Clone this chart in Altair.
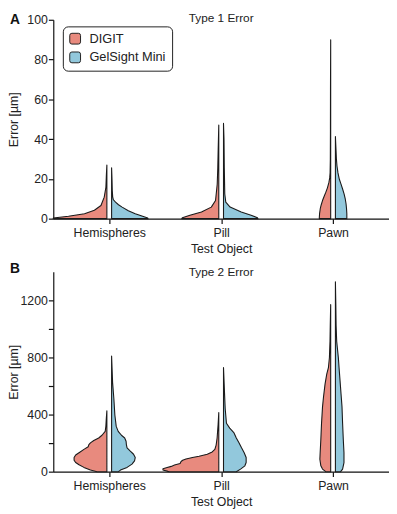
import json
import altair as alt
import pandas as pd

FONT = "Liberation Sans"
OBJECTS = ["Hemispheres", "Pill", "Pawn"]
SENSORS = ["DIGIT", "GelSight Mini"]
COLORS = ["#E88A7E", "#92C8DC"]

# ---- Type 1 error: violin profiles (error value in µm, half-violin density width) ----
t1_hemi_digit_y = [0, 0.35, 1.2, 2.5, 4.2, 6.6, 10.8, 15.7, 22, 27]
t1_hemi_digit_w = [54.5, 54.3, 39, 22.7, 12.7, 6, 2.7, 1.0, 0.5, 0]
t1_hemi_gel_y = [0, 0.3, 1.5, 2.5, 4, 5.8, 7, 8.3, 9.5, 11, 14, 20, 25.6]
t1_hemi_gel_w = [37, 36.7, 30, 24, 17, 10.7, 7, 4, 1.8, 1.1, 0.7, 0.4, 0]

t1_pill_digit_y = [0, 0.5, 1.7, 3.3, 5.8, 9.1, 17.3, 25.6, 35, 47.1]
t1_pill_digit_w = [37.6, 37, 29.3, 17.6, 7.6, 3.3, 1.6, 1.0, 0.6, 0]
t1_pill_gel_y = [0, 0.5, 1.7, 3.3, 5.8, 8.3, 12.4, 25.6, 40, 47.9]
t1_pill_gel_w = [35, 34.5, 28, 18, 6.7, 2.3, 1.3, 0.8, 0.5, 0]

t1_pawn_digit_y = [0, 2.5, 5, 7, 9.1, 11, 13.2, 15.5, 18.2, 20.5, 23, 30, 45, 65, 90]
t1_pawn_digit_w = [11.6, 11.3, 10.6, 9.6, 8.3, 6.8, 5, 3.3, 1.8, 1.0, 0.6, 0.35, 0.25, 0.2, 0]
t1_pawn_gel_y = [0, 2.5, 5, 7.5, 9.9, 12.5, 14.9, 17.5, 19.8, 23, 26.5, 30, 34.7, 41.3]
t1_pawn_gel_w = [11.6, 11.6, 11.3, 10.8, 10, 8.8, 7.3, 5.6, 4, 2.6, 1.6, 1.0, 0.6, 0]

# ---- Type 2 error ----
t2_hemi_digit_y = [0, 11, 30, 48, 64, 80, 99, 117, 133, 156, 174, 190, 202, 218, 236, 255, 282, 320, 370, 427]
t2_hemi_digit_w = [10, 16.7, 23.3, 28.3, 31.7, 33.3, 33.3, 31.7, 28.3, 23.3, 19, 18.3, 16.7, 13.3, 8.3, 5, 1.7, 1.0, 0.6, 0]
t2_hemi_gel_y = [0, 11, 30, 53, 76, 99, 122, 144, 167, 190, 213, 236, 255, 282, 317, 397, 511, 626, 810]
t2_hemi_gel_w = [7, 9, 15.7, 20.7, 23.3, 24, 22.3, 19, 15.7, 15, 14.7, 13.3, 10, 6.7, 4.7, 3.3, 2.3, 1.0, 0]

t2_pill_digit_y = [0, 2, 11, 21, 28, 37, 46, 57, 71, 80, 89, 99, 108, 122, 138, 156, 186, 236, 328, 415]
t2_pill_digit_w = [50, 51.7, 56.7, 56.7, 53.3, 48.3, 45, 39.3, 38.3, 36.7, 33.3, 26.7, 20, 11.7, 6.7, 4, 2.7, 1.7, 0.7, 0]
t2_pill_gel_y = [0, 18, 41, 64, 99, 133, 167, 202, 236, 271, 305, 339, 443, 557, 729]
t2_pill_gel_w = [13, 17.3, 21.7, 23, 23, 21, 18.3, 15.7, 13, 10.7, 6.3, 3, 1.7, 1.0, 0]

t2_pawn_digit_y = [0, 18, 41, 87, 133, 225, 339, 454, 523, 615, 683, 729, 798, 913, 1040, 1170]
t2_pawn_digit_w = [5, 8.3, 10, 11, 10.7, 10, 9.3, 8.3, 7.3, 5.7, 4, 2.3, 1.3, 0.7, 0.4, 0]
t2_pawn_gel_y = [0, 18, 64, 133, 225, 339, 454, 546, 638, 729, 798, 913, 1028, 1180, 1330]
t2_pawn_gel_w = [5.3, 7.3, 8.7, 8.7, 8, 7.3, 6.7, 5.7, 4.7, 3.7, 3, 1.3, 0.7, 0.4, 0]

T1 = {
    ("Hemispheres", "DIGIT"): (t1_hemi_digit_y, t1_hemi_digit_w),
    ("Hemispheres", "GelSight Mini"): (t1_hemi_gel_y, t1_hemi_gel_w),
    ("Pill", "DIGIT"): (t1_pill_digit_y, t1_pill_digit_w),
    ("Pill", "GelSight Mini"): (t1_pill_gel_y, t1_pill_gel_w),
    ("Pawn", "DIGIT"): (t1_pawn_digit_y, t1_pawn_digit_w),
    ("Pawn", "GelSight Mini"): (t1_pawn_gel_y, t1_pawn_gel_w),
}
T2 = {
    ("Hemispheres", "DIGIT"): (t2_hemi_digit_y, t2_hemi_digit_w),
    ("Hemispheres", "GelSight Mini"): (t2_hemi_gel_y, t2_hemi_gel_w),
    ("Pill", "DIGIT"): (t2_pill_digit_y, t2_pill_digit_w),
    ("Pill", "GelSight Mini"): (t2_pill_gel_y, t2_pill_gel_w),
    ("Pawn", "DIGIT"): (t2_pawn_digit_y, t2_pawn_digit_w),
    ("Pawn", "GelSight Mini"): (t2_pawn_gel_y, t2_pawn_gel_w),
}

W = 341
DENS = 3.0 / W      # density width -> category units
GAP = 2.4 * DENS    # split gap between halves


def build(profiles):
    rows = []
    for (obj, sen), (ys, ws) in profiles.items():
        c = OBJECTS.index(obj) + 0.5
        sign = -1 if sen == "DIGIT" else 1
        for y, w in zip(ys, ws):
            rows.append({
                "object": obj, "sensor": sen, "key": obj + "|" + sen, "y": y,
                "xi": c + sign * GAP, "xo": c + sign * (GAP + w * DENS),
            })
    return pd.DataFrame(rows)


XLABEL = "%s[floor(datum.value)]" % json.dumps(OBJECTS)
ROUNDSQ = ("M-1,-0.6 Q-1,-1 -0.6,-1 L0.6,-1 Q1,-1 1,-0.6 L1,0.6 Q1,1 0.6,1 "
           "L-0.6,1 Q-1,1 -1,0.6 Z")


def panel(profiles, ymax, yvalues, ylabelexpr, label, title, height, legend, label_y, title_y):
    df = build(profiles)
    area = alt.Chart(df).mark_area(
        orient="horizontal", stroke="#1a1a1a", strokeWidth=1.1, strokeJoin="round",
        opacity=1, fillOpacity=1,
    ).encode(
        x=alt.X("xo:Q", scale=alt.Scale(domain=[0, 3], nice=False, zero=False),
                axis=alt.Axis(values=[0.5, 1.5, 2.5], labelExpr=XLABEL, title="Test Object",
                              labelPadding=3.5, titleY=24.1, titleBaseline="top")),
        x2="xi:Q",
        y=alt.Y("y:Q", scale=alt.Scale(domain=[0, ymax], nice=False, zero=True),
                axis=alt.Axis(values=yvalues, format="d", labelExpr=ylabelexpr,
                              title="Error [µm]", labelPadding=1, titleX=-33,
                              titleY=height / 2, titleAngle=270, titleBaseline="bottom",
                              titleAlign="center")),
        color=alt.Color("sensor:N", scale=alt.Scale(domain=SENSORS, range=COLORS), legend=legend),
        detail="key:N",
    )
    lab = alt.Chart(pd.DataFrame({"t": [label]})).mark_text(
        align="left", baseline="top", fontSize=14, fontWeight="bold", font=FONT, color="#111"
    ).encode(x=alt.value(-44), y=alt.value(label_y), text="t:N")
    ttl = alt.Chart(pd.DataFrame({"t": [title]})).mark_text(
        align="center", baseline="top", fontSize=12, font=FONT, color="#222"
    ).encode(x=alt.value(W / 2), y=alt.value(title_y), text="t:N")
    return alt.layer(area, lab, ttl).properties(width=W, height=height)


legend_a = alt.Legend(
    orient="none", legendX=9.7, legendY=6.7, title=None, symbolType=ROUNDSQ, symbolSize=120,
    symbolStrokeColor="#222", symbolStrokeWidth=1, symbolOpacity=1, labelFont=FONT,
    labelFontSize=13, labelColor="#222", labelOffset=8, rowPadding=4, padding=6,
    strokeColor="#222", cornerRadius=5, fillColor="white",
)

pa = panel(T1, 100, [0, 20, 40, 60, 80, 100], "datum.label", "A", "Type 1 Error", 202,
           legend_a, -7, -7)
pb = panel(T2, 1400, [0, 200, 400, 600, 800, 1000, 1200],
           "datum.value % 400 == 0 ? datum.label : ''", "B", "Type 2 Error", 203,
           None, -10.3, -4.5)

chart = alt.vconcat(pa, pb, spacing=54, bounds="flush").resolve_legend(
    color="independent"
).properties(padding=0).configure_view(stroke=None).configure_axis(
    grid=False, domainColor="#111", domainWidth=1.2, tickColor="#111", tickWidth=1.2,
    tickSize=5, labelFont=FONT, labelFontSize=12.5, labelColor="#222",
    titleFont=FONT, titleFontSize=12.5, titleFontWeight="normal", titleColor="#222",
)

chart.save("out.html", embed_options={"renderer": "svg", "actions": False})
